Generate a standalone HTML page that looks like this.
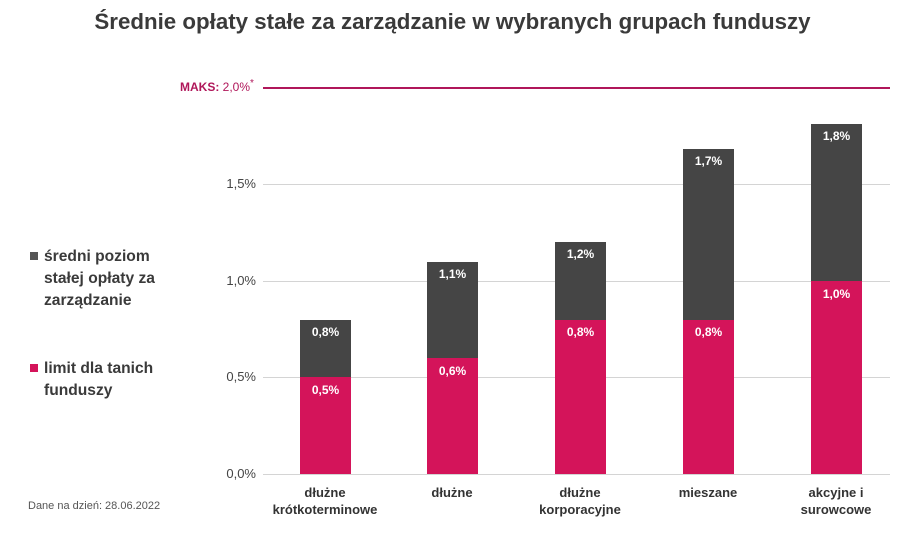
<!DOCTYPE html>
<html><head><meta charset="utf-8"><style>
body{margin:0;width:905px;height:534px;background:#fff;position:relative;overflow:hidden;font-family:"Liberation Sans",sans-serif;}
.a{position:absolute}
.title{left:0;width:905px;top:9px;text-align:center;font-size:22.3px;font-weight:bold;color:#3a3a3a}
.grid{left:263px;width:627px;height:1px;background:#d4d4d4}
.yl{width:60px;left:196px;text-align:right;font-size:13px;color:#444}
.bar{width:51px}
.g{background:#454545}.p{background:#d4145a}
.bl{width:51px;text-align:center;color:#fff;font-weight:bold;font-size:12px}
.xl{width:130px;text-align:center;font-weight:bold;font-size:13px;color:#333;line-height:17px}
.leg{left:30px;font-weight:bold;font-size:15.6px;color:#3a3a3a;line-height:22px}
.sq{display:inline-block;width:8px;height:8px;margin-right:6px;vertical-align:1px}
</style></head><body>
<div class="a title">Średnie opłaty stałe za zarządzanie w wybranych grupach funduszy</div>
<div class="a" style="left:180px;top:78px;font-size:12px;color:#b0175a"><b>MAKS:</b> 2,0%<sup style="font-size:10px">*</sup></div>
<div class="a" style="left:263px;width:627px;top:87px;height:2px;background:#b0175a"></div>
<div class="a grid" style="top:184px"></div><div class="a yl" style="top:176px">1,5%</div>
<div class="a grid" style="top:281px"></div><div class="a yl" style="top:273px">1,0%</div>
<div class="a grid" style="top:377px"></div><div class="a yl" style="top:369px">0,5%</div>
<div class="a grid" style="top:474px"></div><div class="a yl" style="top:466px">0,0%</div>

<div class="a bar g" style="left:300px;top:320px;height:57px"></div><div class="a bar p" style="left:300px;top:377px;height:97px"></div>
<div class="a bl" style="left:300px;top:325px">0,8%</div><div class="a bl" style="left:300px;top:383px">0,5%</div>
<div class="a bar g" style="left:427px;top:262px;height:96px"></div><div class="a bar p" style="left:427px;top:358px;height:116px"></div>
<div class="a bl" style="left:427px;top:267px">1,1%</div><div class="a bl" style="left:427px;top:364px">0,6%</div>
<div class="a bar g" style="left:555px;top:242px;height:78px"></div><div class="a bar p" style="left:555px;top:320px;height:154px"></div>
<div class="a bl" style="left:555px;top:247px">1,2%</div><div class="a bl" style="left:555px;top:325px">0,8%</div>
<div class="a bar g" style="left:683px;top:149px;height:171px"></div><div class="a bar p" style="left:683px;top:320px;height:154px"></div>
<div class="a bl" style="left:683px;top:154px">1,7%</div><div class="a bl" style="left:683px;top:325px">0,8%</div>
<div class="a bar g" style="left:811px;top:124px;height:157px"></div><div class="a bar p" style="left:811px;top:281px;height:193px"></div>
<div class="a bl" style="left:811px;top:129px">1,8%</div><div class="a bl" style="left:811px;top:287px">1,0%</div>

<div class="a xl" style="left:260px;top:484px">dłużne<br>krótkoterminowe</div>
<div class="a xl" style="left:387px;top:484px">dłużne</div>
<div class="a xl" style="left:515px;top:484px">dłużne<br>korporacyjne</div>
<div class="a xl" style="left:643px;top:484px">mieszane</div>
<div class="a xl" style="left:771px;top:484px">akcyjne i<br>surowcowe</div>

<div class="a leg" style="top:246px"><span class="sq" style="background:#555"></span>średni poziom<br><span style="padding-left:14px">stałej opłaty za</span><br><span style="padding-left:14px">zarządzanie</span></div>
<div class="a leg" style="top:358px"><span class="sq" style="background:#d4145a"></span>limit dla tanich<br><span style="padding-left:14px">funduszy</span></div>
<div class="a" style="left:28px;top:500px;font-size:11px;color:#555">Dane na dzień: 28.06.2022</div>
</body></html>
